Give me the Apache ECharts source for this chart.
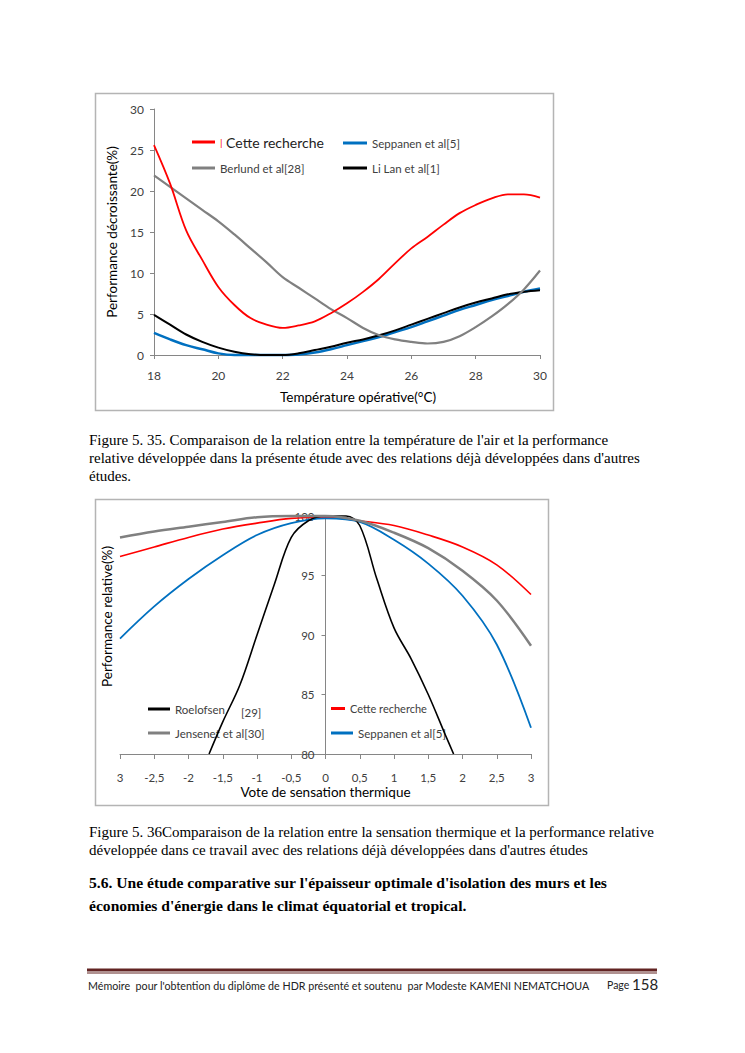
<!DOCTYPE html>
<html><head><meta charset="utf-8">
<script src="https://cdn.jsdelivr.net/npm/echarts@6/dist/echarts.min.js"></script>
<style>html,body{margin:0;padding:0;background:#fff;} #c{width:745px;height:1053px;}</style>
</head><body><div id="c"></div>
<script>
// ---- Chart 1 data (Performance décroissante vs température opérative)
const temps1 = [18,18.5,19,19.5,20,20.5,21,21.5,22,22.5,23,23.5,24,24.5,25,25.5,26,26.5,27,27.5,28,28.5,29,29.5,30];
const cetteRecherche1 = [25.6,20.9,15.2,11.6,8.3,6.1,4.5,3.7,3.3,3.6,4.1,5.1,6.3,7.7,9.3,11.2,13.0,14.4,15.9,17.3,18.3,19.1,19.6,19.6,19.2];
const seppanen1 = [2.7,1.9,1.2,0.7,0.2,0,0,0,0,0.05,0.3,0.7,1.2,1.7,2.2,2.8,3.4,4.1,4.8,5.5,6.1,6.7,7.2,7.7,8.1];
const berlund1 = [21.9,20.5,19.1,17.7,16.3,14.7,13.0,11.3,9.5,8.2,6.9,5.6,4.5,3.3,2.4,1.9,1.6,1.4,1.6,2.3,3.4,4.7,6.2,8.0,10.3];
const liLan1 = [4.9,3.7,2.5,1.6,0.9,0.4,0.1,0,0,0.2,0.6,1.0,1.5,1.9,2.4,3.0,3.7,4.4,5.1,5.8,6.4,6.9,7.4,7.7,7.9];

// ---- Chart 2 data (Performance relative vs vote de sensation thermique)
const votes2 = [-3,-2.5,-2,-1.5,-1,-0.5,0,0.5,1,1.5,2,2.5,3];
const xTickLabels2 = ['3','-2,5','-2','-1,5','-1','-0,5','0','0,5','1','1,5','2','2,5','3'];
const cetteRecherche2 = [96.6,97.4,98.2,98.9,99.4,99.8,99.9,99.6,99.2,98.4,97.4,95.9,93.4];
const jensen2 = [98.2,98.7,99.1,99.5,99.9,100,100,99.6,98.6,97.3,95.4,92.9,89.1];
const seppanen2 = [89.7,92.4,94.7,96.7,98.4,99.4,99.8,99.5,98.0,96.0,93.3,89.2,82.2];
const roelofsenVotes2 = [-1.7,-1.5,-1.25,-1,-0.75,-0.5,-0.25,0,0.3,0.5,0.75,1,1.25,1.5,1.75,1.87];
const roelofsen2 = [80,82.7,85.8,90,94.2,98.2,99.6,100,100,99.2,94.7,90.6,88.0,85.0,81.6,80];

const zip = (xs, ys) => xs.map((x, i) => [x, ys[i]]);
const RED = '#ff0000', BLUE = '#0070c0', GRAY = '#808080', BLACK = '#000000';
const AX = '#868686', LBL = '#404040';
const F = 'Lato';

const chart = echarts.init(document.getElementById('c'), null, {renderer: 'svg'});

function lineSeries(name, data, color, width, xi, yi, z) {
  return {name, type: 'line', data, xAxisIndex: xi, yAxisIndex: yi, color,
    showSymbol: false, symbol: 'none', smooth: 0.35, clip: false, z: z || 2,
    lineStyle: {color, width}, emphasis: {disabled: true}};
}
function leg(name, left, top, size, w, fmt) {
  const l = {data: [name], left, top, padding: 0, icon: 'rect', itemWidth: w, itemHeight: 3,
    textStyle: {fontFamily: F, fontSize: size, color: LBL}, selectedMode: false};
  if (fmt) { l.formatter = fmt.f; l.textStyle.rich = fmt.rich; }
  return l;
}
function txt(x, y, text, opts) {
  return Object.assign({type: 'text', x, y, silent: true,
    style: Object.assign({text, fill: '#000', fontFamily: 'Liberation Serif', fontSize: 15,
      verticalAlign: 'middle', align: 'left'}, opts || {})});
}

const option = {
  backgroundColor: '#ffffff',
  animation: false,
  grid: [
    {left: 154, top: 109, width: 386, height: 246},
    {left: 120, top: 516, width: 411, height: 238}
  ],
  xAxis: [
    {type: 'value', gridIndex: 0, min: 18, max: 30, interval: 2,
      name: 'Température opérative(°C)', nameLocation: 'middle', nameGap: 35,
      nameTextStyle: {fontFamily: F, fontSize: 13.5, color: '#000', padding: [0, 0, 0, 22]},
      axisLine: {show: true, lineStyle: {color: AX, width: 1}},
      axisTick: {show: true, length: 4, lineStyle: {color: AX}},
      axisLabel: {fontFamily: F, fontSize: 12, color: LBL, margin: 14},
      splitLine: {show: false}},
    {type: 'value', gridIndex: 1, min: -3, max: 3, interval: 0.5,
      name: 'Vote de sensation thermique', nameLocation: 'middle', nameGap: 31,
      nameTextStyle: {fontFamily: F, fontSize: 13.5, color: '#000'},
      axisLine: {show: true, onZero: false, lineStyle: {color: AX, width: 1}},
      axisTick: {show: true, length: 5, lineStyle: {color: AX}},
      axisLabel: {fontFamily: F, fontSize: 11.5, color: LBL, margin: 17,
        formatter: (v) => xTickLabels2[Math.round((v + 3) / 0.5)]},
      splitLine: {show: false}}
  ],
  yAxis: [
    {type: 'value', gridIndex: 0, min: 0, max: 30, interval: 5,
      name: 'Performance décroissante(%)', nameLocation: 'middle', nameGap: 31,
      nameTextStyle: {fontFamily: F, fontSize: 13.5, color: '#000'},
      axisLine: {show: true, lineStyle: {color: AX, width: 1}},
      axisTick: {show: true, length: 4, lineStyle: {color: AX}},
      axisLabel: {fontFamily: F, fontSize: 12, color: LBL, margin: 10},
      splitLine: {show: false}},
    {type: 'value', gridIndex: 1, min: 80, max: 100, interval: 5, position: 'left', offset: -205.5,
      axisLine: {show: true, onZero: false, lineStyle: {color: AX, width: 1}},
      axisTick: {show: true, length: 4, lineStyle: {color: AX}},
      axisLabel: {fontFamily: F, fontSize: 11.5, color: LBL, margin: 11},
      splitLine: {show: false}},
    {type: 'value', gridIndex: 1, min: 80, max: 100, interval: 5, position: 'left',
      name: 'Performance relative(%)', nameLocation: 'middle', nameGap: 6,
      nameTextStyle: {fontFamily: F, fontSize: 13.5, color: '#000', padding: [0, 0, 0, 37]},
      axisLine: {show: false, onZero: false}, axisTick: {show: false},
      axisLabel: {show: false}, splitLine: {show: false}}
  ],
  legend: [
    leg('Cette recherche', 192, 135, 14, 23, {f: '{bar||} {t|Cette recherche}',
      rich: {bar: {color: RED, fontSize: 10, fontFamily: F}, t: {fontSize: 14, fontFamily: F, color: '#222'}}}),
    leg('Seppanen et al[5]', 343, 137, 11.5, 24),
    leg('Berlund et al[28]', 192, 162, 11.5, 23),
    leg('Li Lan et al[1]', 343, 162, 11.5, 24),
    leg('Roelofsen', 148, 703, 11.5, 22, {f: '{t|Roelofsen}{r|[29]}',
      rich: {t: {fontSize: 11.5, fontFamily: F, color: LBL}, r: {fontSize: 11.5, fontFamily: F, color: LBL, padding: [6, 0, 0, 16]}}}),
    leg('Jensenet et al[30]', 148, 727, 11.5, 22),
    leg('Cette recherche ', 331, 703, 11, 14),
    leg('Seppanen et al[5] ', 331, 727, 11.5, 22)
  ],
  series: [
    lineSeries('Seppanen et al[5]', zip(temps1, seppanen1), BLUE, 2.5, 0, 0, 2),
    lineSeries('Li Lan et al[1]', zip(temps1, liLan1), BLACK, 2, 0, 0, 3),
    lineSeries('Berlund et al[28]', zip(temps1, berlund1), GRAY, 2.2, 0, 0, 4),
    lineSeries('Cette recherche', zip(temps1, cetteRecherche1), RED, 1.8, 0, 0, 5),
    lineSeries('Cette recherche ', zip(votes2, cetteRecherche2), RED, 1.6, 1, 1, 2),
    lineSeries('Seppanen et al[5] ', zip(votes2, seppanen2), BLUE, 1.8, 1, 1, 3),
    lineSeries('Roelofsen', zip(roelofsenVotes2, roelofsen2), BLACK, 1.6, 1, 1, 4),
    lineSeries('Jensenet et al[30]', zip(votes2, jensen2), GRAY, 2.5, 1, 1, 5)
  ],
  graphic: [
    {type: 'rect', shape: {x: 95.5, y: 93.5, width: 458, height: 317}, z: -1, silent: true,
      style: {fill: 'none', stroke: '#b4b4b4', lineWidth: 1.5}},
    {type: 'rect', shape: {x: 95.5, y: 499.5, width: 453, height: 306}, z: -1, silent: true,
      style: {fill: 'none', stroke: '#b4b4b4', lineWidth: 1.5}},
    txt(89, 440, "Figure 5. 35. Comparaison de la relation entre la température de l'air et la performance"),
    txt(89, 458, "relative développée dans la présente étude avec des relations déjà développées dans d'autres"),
    txt(89, 476, "études."),
    txt(89, 832, "Figure 5. 36Comparaison de la relation entre la sensation thermique et la performance relative"),
    txt(89, 850, "développée dans ce travail avec des relations déjà développées dans d'autres études"),
    txt(89, 882, "5.6. Une étude comparative sur l'épaisseur optimale d'isolation des murs et les", {fontWeight: 'bold', fontSize: 15.6}),
    txt(89, 905, "économies d'énergie dans le climat équatorial et tropical.", {fontWeight: 'bold', fontSize: 15.6}),
    {type: 'rect', shape: {x: 87, y: 968.5, width: 570, height: 3}, silent: true, style: {fill: '#622423'}},
    {type: 'rect', shape: {x: 87, y: 972.5, width: 570, height: 1}, silent: true, style: {fill: '#622423'}},
    txt(88, 985, "Mémoire  pour l'obtention du diplôme de HDR présenté et soutenu  par Modeste KAMENI NEMATCHOUA", {fontFamily: F, fontSize: 10.7, fill: '#222'}),
    txt(607, 985, "Page", {fontFamily: F, fontSize: 10.5, fill: '#222'}),
    txt(632, 984, "158", {fontFamily: F, fontSize: 15, fill: '#222'})
  ]
};
chart.setOption(option);
</script></body></html>
